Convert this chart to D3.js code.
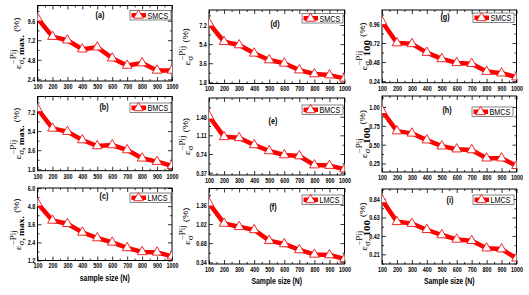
<!DOCTYPE html>
<html><head><meta charset="utf-8">
<script src="https://cdn.jsdelivr.net/npm/d3@7/dist/d3.min.js"></script>
<style>body{margin:0;background:#fff}svg{display:block}</style>
</head><body>
<svg id="chart" width="529" height="295"></svg>
<script>
// ---------- data ----------
const sampleSizes = [100, 200, 300, 400, 500, 600, 700, 800, 900, 1000];
const xTickValues = [100, 200, 300, 400, 500, 600, 700, 800, 900, 1000];
const xTickLabels = ["100", "200", "300", "400", "500", "600", "700", "800", "900", "1000"];
const xMinorValues = [150, 250, 350, 450, 550, 650, 750, 850, 950];
const seriesNames = ["SMCS", "BMCS", "LMCS"];
const panelLetters = ["(a)", "(b)", "(c)", "(d)", "(e)", "(f)", "(g)", "(h)", "(i)"];
const xTitles = ["sample size (N)", "Sample size (N)", "Sample size (N)"];

const epsMax_SMCS = [9.9, 7.64, 7.2, 6.1, 6.34, 5.0, 4.1, 4.4, 3.5, 3.5];
const epsMax_BMCS = [7.5, 5.66, 5.35, 4.56, 4.0, 4.09, 3.62, 2.84, 2.52, 2.14];
const epsMax_LMCS = [4.99, 3.85, 3.63, 3.06, 2.69, 2.40, 2.03, 1.77, 1.74, 1.48];
const eps_SMCS = [7.36, 5.62, 5.31, 4.53, 3.9, 3.59, 2.95, 2.58, 2.48, 2.17];
const eps_BMCS = [1.49, 1.08, 1.06, 0.92, 0.80, 0.72, 0.70, 0.52, 0.51, 0.44];
const eps_LMCS = [1.39, 1.03, 0.97, 0.915, 0.725, 0.666, 0.56, 0.48, 0.47, 0.40];
const eps100_SMCS = [0.99, 0.72, 0.71, 0.60, 0.52, 0.47, 0.46, 0.36, 0.34, 0.29];
const eps100_BMCS = [0.95, 0.68, 0.65, 0.56, 0.48, 0.44, 0.43, 0.32, 0.32, 0.22];
const eps100_LMCS = [0.83, 0.58, 0.56, 0.49, 0.43, 0.38, 0.365, 0.28, 0.27, 0.165];

const yTicks_a = [2.4, 4.8, 7.2, 9.6];
const yTicks_b = [1.8, 3.6, 5.4, 7.2];
const yTicks_c = [1.2, 2.4, 3.6, 4.8, 6.0];
const yTicks_d = [1.8, 3.6, 5.4, 7.2];
const yTicks_e = [0.37, 0.74, 1.11, 1.48];
const yTicks_f = [0.34, 0.68, 1.02, 1.36];
const yTicks_g = [0.24, 0.48, 0.72, 0.96];
const yTicks_h = [0.25, 0.50, 0.75, 1.00];
const yTicks_i = [0.21, 0.42, 0.63, 0.84];
const yTickLabels_a = ["2.4", "4.8", "7.2", "9.6"];
const yTickLabels_b = ["1.8", "3.6", "5.4", "7.2"];
const yTickLabels_c = ["1.2", "2.4", "3.6", "4.8", "6.0"];
const yTickLabels_d = ["1.8", "3.6", "5.4", "7.2"];
const yTickLabels_e = ["0.37", "0.74", "1.11", "1.48"];
const yTickLabels_f = ["0.34", "0.68", "1.02", "1.36"];
const yTickLabels_g = ["0.24", "0.48", "0.72", "0.96"];
const yTickLabels_h = ["0.25", "0.50", "0.75", "1.00"];
const yTickLabels_i = ["0.21", "0.42", "0.63", "0.84"];

// ---------- layout ----------
const panels = [
  {v: epsMax_SMCS, s: 0, t: yTicks_a, tl: yTickLabels_a, dom: [2.2, 11.46], box: [37.5, 5.5, 172, 81], leg: [130, 10.5], lab: [100, 15], kind: "max", col: 0, row: 0},
  {v: epsMax_BMCS, s: 1, t: yTicks_b, tl: yTickLabels_b, dom: [1.67, 8.66], box: [37.5, 96.5, 172, 170.7], leg: [130, 103], lab: [104, 107], kind: "max", col: 0, row: 1},
  {v: epsMax_LMCS, s: 2, t: yTicks_c, tl: yTickLabels_c, dom: [1.2, 6.0], box: [37.5, 188, 172, 260.5], leg: [130, 193], lab: [104, 196], kind: "max", col: 0, row: 2},
  {v: eps_SMCS, s: 0, t: yTicks_d, tl: yTickLabels_d, dom: [1.69, 8.61], box: [209, 10, 344.5, 83.5], leg: [302, 13.5], lab: [275, 24], kind: "plain", col: 1, row: 0},
  {v: eps_BMCS, s: 1, t: yTicks_e, tl: yTickLabels_e, dom: [0.324, 1.85], box: [209, 98, 344.5, 175], leg: [302, 105], lab: [273, 121], kind: "plain", col: 1, row: 1},
  {v: eps_LMCS, s: 2, t: yTicks_f, tl: yTickLabels_f, dom: [0.31, 1.65], box: [209, 188.5, 344.5, 264], leg: [302, 195], lab: [273, 207], kind: "plain", col: 1, row: 2},
  {v: eps100_SMCS, s: 0, t: yTicks_g, tl: yTickLabels_g, dom: [0.22, 1.137], box: [382, 10, 516.5, 82.7], leg: [473, 13], lab: [445, 17], kind: "100", col: 2, row: 0},
  {v: eps100_BMCS, s: 1, t: yTicks_h, tl: yTickLabels_h, dom: [0.137, 1.146], box: [382, 96, 516.5, 172], leg: [472, 107], lab: [447, 110], kind: "100", col: 2, row: 1},
  {v: eps100_LMCS, s: 2, t: yTicks_i, tl: yTickLabels_i, dom: [0.10, 0.954], box: [382, 189, 516.5, 264], leg: [473, 195], lab: [450, 200], kind: "100", col: 2, row: 2}
];
const titleX = [21, 190, 367];
const xTitleY = [281, 284, 284];

const RED = "#ff0000";
const SANS = "'Liberation Sans', Arial, sans-serif";
const SERIF = "'Liberation Serif', 'Times New Roman', serif";
const svg = d3.select("#chart");
svg.append("rect").attr("width", 529).attr("height", 295).attr("fill", "#fff");
const defs = svg.append("defs");

function styleAxis(g, sx) {
  g.select(".domain").remove();
  g.selectAll(".tick line").attr("stroke", "#000").attr("stroke-width", 0.8);
  g.selectAll(".tick text").attr("fill", "#000").attr("font-family", SANS)
    .attr("font-weight", "bold").attr("font-size", 7.5)
    .attr("transform", `scale(${sx},1)`);
}
function minorTicks(t, dom) {
  const step = t[1] - t[0];
  const out = [];
  for (let k = -20; k <= 40; k++) {
    if (k % 2 === 0) continue;
    const v = t[0] + k * step / 2;
    if (v > dom[0] + 1e-9 && v < dom[1] - 1e-9) out.push(v);
  }
  return out;
}

panels.forEach((p, idx) => {
  const [x0, y0, x1, y1] = p.box;
  const x = d3.scaleLinear().domain([100, 1000]).range([x0, x1]);
  const y = d3.scaleLinear().domain(p.dom).range([y1, y0]);
  const yMinor = minorTicks(p.t, p.dom);

  const cid = "clip" + idx;
  defs.append("clipPath").attr("id", cid).append("rect")
    .attr("x", x0).attr("y", y0).attr("width", x1 - x0).attr("height", y1 - y0);

  // axes
  const gb = svg.append("g").attr("transform", `translate(0,${y1})`)
    .call(d3.axisBottom(x).tickValues(xTickValues).tickFormat((d, i) => xTickLabels[i]).tickSize(-4).tickPadding(2.5));
  styleAxis(gb, 0.72);
  const gbm = svg.append("g").attr("transform", `translate(0,${y1})`)
    .call(d3.axisBottom(x).tickValues(xMinorValues).tickFormat("").tickSize(-2));
  styleAxis(gbm, 1);
  const gt = svg.append("g").attr("transform", `translate(0,${y0})`)
    .call(d3.axisTop(x).tickValues(xTickValues).tickFormat("").tickSize(-4));
  styleAxis(gt, 1);
  const gtm = svg.append("g").attr("transform", `translate(0,${y0})`)
    .call(d3.axisTop(x).tickValues(xMinorValues).tickFormat("").tickSize(-2));
  styleAxis(gtm, 1);
  const gl = svg.append("g").attr("transform", `translate(${x0},0)`)
    .call(d3.axisLeft(y).tickValues(p.t).tickFormat((d, i) => p.tl[i]).tickSize(-4).tickPadding(3.2));
  styleAxis(gl, 0.72);
  const glm = svg.append("g").attr("transform", `translate(${x0},0)`)
    .call(d3.axisLeft(y).tickValues(yMinor).tickFormat("").tickSize(-2));
  styleAxis(glm, 1);
  const gr = svg.append("g").attr("transform", `translate(${x1},0)`)
    .call(d3.axisRight(y).tickValues(p.t).tickFormat("").tickSize(-4));
  styleAxis(gr, 1);
  const grm = svg.append("g").attr("transform", `translate(${x1},0)`)
    .call(d3.axisRight(y).tickValues(yMinor).tickFormat("").tickSize(-2));
  styleAxis(grm, 1);

  svg.append("rect").attr("x", x0).attr("y", y0).attr("width", x1 - x0).attr("height", y1 - y0)
    .attr("fill", "none").attr("stroke", "#000").attr("stroke-width", 1);

  // data
  const gd = svg.append("g").attr("clip-path", `url(#${cid})`);
  const line = d3.line().x((d, i) => x(sampleSizes[i])).y(d => y(d));
  gd.append("path").datum(p.v).attr("d", line).attr("fill", "none")
    .attr("stroke", RED).attr("stroke-width", 4.5).attr("stroke-linejoin", "round");
  const tri = d3.symbol().type(d3.symbolTriangle).size(40);
  gd.selectAll("path.m").data(p.v).join("path").attr("class", "m")
    .attr("transform", (d, i) => `translate(${x(sampleSizes[i])},${y(d)})`)
    .attr("d", tri).attr("fill", "#fff").attr("stroke", "#ee1111").attr("stroke-width", 0.9);

  // legend
  const [lx, ly] = p.leg;
  const lg = svg.append("g");
  lg.append("rect").attr("x", lx).attr("y", ly).attr("width", 41).attr("height", 9.5)
    .attr("fill", "#fff").attr("stroke", "#333").attr("stroke-width", 0.6);
  lg.append("line").attr("x1", lx + 1.5).attr("x2", lx + 16).attr("y1", ly + 4.75).attr("y2", ly + 4.75)
    .attr("stroke", RED).attr("stroke-width", 4.5);
  lg.append("path").attr("transform", `translate(${lx + 8.5},${ly + 4.9})`).attr("d", tri)
    .attr("fill", "#fff").attr("stroke", "#ee1111").attr("stroke-width", 0.9);
  lg.append("text").attr("transform", `translate(${lx + 17.5},${ly + 8}) scale(0.8,1)`)
    .attr("font-family", SANS).attr("font-size", 9).attr("fill", "#000").text(seriesNames[p.s]);

  // panel letter
  svg.append("text").attr("transform", `translate(${p.lab[0]},${p.lab[1] + 3}) scale(0.8,1)`)
    .attr("text-anchor", "middle").attr("font-family", SANS).attr("font-weight", "bold")
    .attr("font-size", 9).attr("fill", "#000").text(panelLetters[idx]);

  // y title
  const cy = (y0 + y1) / 2;
  const t = svg.append("text").attr("font-family", SERIF).attr("fill", "#000");
  t.append("tspan").attr("font-size", 11.5).text("ε");
  const sup = t.append("tspan").attr("font-size", 9).attr("dy", -6).text("−Pij");
  const supW = sup.node().getComputedTextLength();
  const s1 = t.append("tspan").attr("font-size", 9).attr("dx", -supW).attr("dy", 9.5).text("σ");
  let subW = s1.node().getComputedTextLength();
  if (p.kind === "max") {
    const s2 = t.append("tspan").attr("font-size", 9.5).attr("font-weight", "bold").text(", max.");
    subW += s2.node().getComputedTextLength();
  } else if (p.kind === "100") {
    const s2 = t.append("tspan").attr("font-size", 9).text(", ");
    const s3 = t.append("tspan").attr("font-size", 11).attr("font-weight", "bold").text("100");
    subW += s2.node().getComputedTextLength() + s3.node().getComputedTextLength();
  }
  const extra = Math.max(0, supW - subW);
  t.append("tspan").attr("font-size", 9.5).attr("font-family", SANS).attr("dx", extra + 3).attr("dy", -5.5).text("(%)");
  const bb = t.node().getBBox();
  t.attr("x", -(bb.x + bb.width / 2));
  t.attr("transform", `translate(${titleX[p.col]},${cy}) scale(0.8,1) rotate(-90)`);

  // x title
  if (p.row === 2) {
    svg.append("text").attr("transform", `translate(${(x0 + x1) / 2},${xTitleY[p.col]}) scale(0.78,1)`)
      .attr("text-anchor", "middle").attr("font-family", SANS).attr("font-weight", "bold")
      .attr("font-size", 8.8).attr("fill", "#000").text(xTitles[p.col]);
  }
});
</script>
</body></html>
